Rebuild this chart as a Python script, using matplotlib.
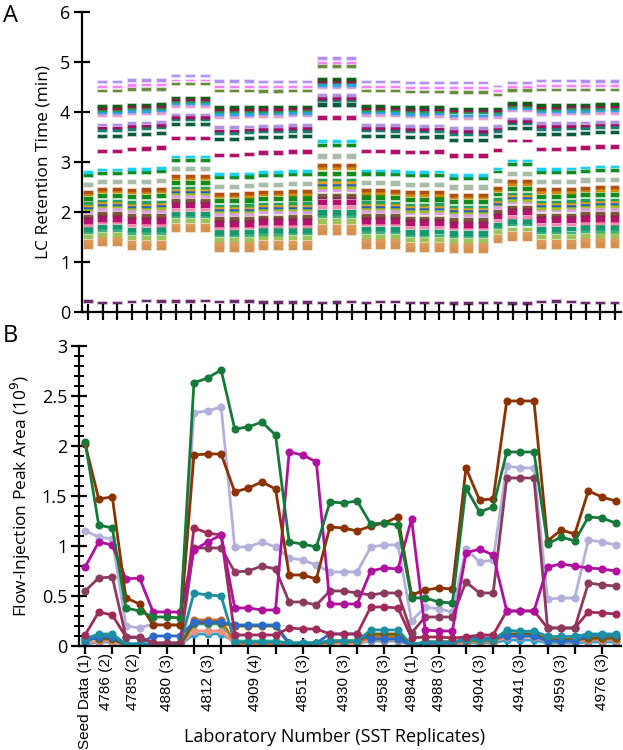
import numpy as np
import matplotlib
matplotlib.use("Agg")
import matplotlib.pyplot as plt
from matplotlib.ticker import MultipleLocator, FixedLocator, FuncFormatter
import matplotlib.transforms as mtransforms

plt.rcParams['font.family'] = ['Open Sans', 'DejaVu Sans']

# ---------------- Panel A data ----------------
# compounds: retention time in a typical run, colour, band thickness (min)
cmp_rt = [1.38, 1.46, 1.55, 1.63, 1.70, 1.78, 1.86, 1.93, 1.97, 2.05, 2.10, 2.14, 2.18,
          2.22, 2.32, 2.40, 2.45, 2.60, 2.78, 2.84, 3.22, 3.52, 3.63, 3.68, 3.74, 3.93,
          3.98, 4.03, 4.07, 4.11, 4.42, 4.50, 4.60]
cmp_color = ['#d4914f', '#dc9a5a', '#9cc35a', '#3fb07a', '#14996e', '#ff88aa', '#b5116e',
             '#8a2550', '#7a5a3a', '#d9a0e8', '#a0c020', '#2060c0', '#e0a020', '#23a05a',
             '#138a1a', '#d08a10', '#b05010', '#a8bca8', '#118a22', '#1ad0f0', '#b0106a',
             '#0a5a3e', '#158070', '#a01060', '#b090e0', '#e0a0d0', '#30a0f0', '#20a050',
             '#a01050', '#0e6018', '#6a8a40', '#ff80ff', '#b090f0']
cmp_height = [0.12, 0.08, 0.08, 0.05, 0.09, 0.05, 0.10, 0.05, 0.05, 0.06, 0.05, 0.05, 0.05,
              0.05, 0.08, 0.05, 0.06, 0.08, 0.06, 0.05, 0.06, 0.06, 0.06, 0.05, 0.05, 0.05,
              0.05, 0.05, 0.05, 0.05, 0.05, 0.04, 0.04]
seed_max_rt = 2.84

# per replicate column: retention time of first, middle (magenta) and last marker compounds
col_low = [1.33, 1.38, 1.38, 1.30, 1.30, 1.30, 1.65, 1.65, 1.65, 1.27, 1.27, 1.27,
           1.30, 1.30, 1.30, 1.30, 1.60, 1.60, 1.60, 1.33, 1.33, 1.33, 1.26, 1.26, 1.26,
           1.25, 1.25, 1.25, 1.43, 1.47, 1.47, 1.32, 1.32, 1.32, 1.35, 1.35, 1.35]
col_mid = [3.17, 3.22, 3.22, 3.25, 3.26, 3.28, 3.47, 3.47, 3.47, 3.13, 3.13, 3.15,
           3.18, 3.18, 3.20, 3.20, 3.88, 3.88, 3.88, 3.21, 3.21, 3.20, 3.19, 3.19, 3.20,
           3.12, 3.12, 3.12, 3.23, 3.42, 3.42, 3.25, 3.25, 3.26, 3.28, 3.30, 3.30]
col_high = [4.55, 4.60, 4.60, 4.63, 4.63, 4.63, 4.72, 4.72, 4.72, 4.61, 4.61, 4.61,
            4.60, 4.60, 4.60, 4.60, 5.07, 5.07, 5.07, 4.60, 4.60, 4.60, 4.58, 4.58, 4.58,
            4.58, 4.58, 4.58, 4.51, 4.58, 4.58, 4.62, 4.62, 4.62, 4.61, 4.61, 4.61]
void_rt = [0.21, 0.18, 0.18, 0.20, 0.22, 0.21, 0.21, 0.21, 0.22, 0.20, 0.21, 0.21,
           0.19, 0.19, 0.19, 0.19, 0.18, 0.19, 0.20, 0.18, 0.20, 0.20, 0.18, 0.18, 0.18,
           0.17, 0.17, 0.18, 0.18, 0.17, 0.17, 0.20, 0.21, 0.20, 0.18, 0.18, 0.18]
void_color = '#6b2b6b'

# ---------------- Panel B data ----------------
labs = ['Seed Data (1)', '4786 (2)', '4785 (2)', '4880 (3)', '4812 (3)', '4909 (4)',
        '4851 (3)', '4930 (3)', '4958 (3)', '4984 (1)', '4988 (3)', '4904 (3)',
        '4941 (3)', '4959 (3)', '4976 (3)']
lab_reps = [1, 2, 2, 3, 3, 4, 3, 3, 3, 1, 3, 3, 3, 3, 3]

green = [2.04, 1.21, 1.18, 0.38, 0.35, 0.29, 0.29, 0.28, 2.63, 2.68, 2.76, 2.17, 2.19, 2.24,
         2.11, 1.04, 1.02, 0.99, 1.44, 1.43, 1.45, 1.22, 1.23, 1.21, 0.48, 0.48, 0.44, 0.43,
         1.58, 1.34, 1.39, 1.94, 1.94, 1.94, 1.02, 1.09, 1.05, 1.29, 1.28, 1.23]
brown = [2.02, 1.47, 1.49, 0.48, 0.42, 0.21, 0.21, 0.21, 1.91, 1.92, 1.92, 1.54, 1.58, 1.64,
         1.57, 0.71, 0.71, 0.67, 1.19, 1.18, 1.15, 1.20, 1.23, 1.29, 0.51, 0.56, 0.58, 0.57,
         1.78, 1.46, 1.47, 2.45, 2.45, 2.45, 1.05, 1.16, 1.12, 1.55, 1.49, 1.45]
lavender = [1.15, 1.09, 1.07, 0.20, 0.18, 0.22, 0.21, 0.21, 2.33, 2.35, 2.39, 0.99, 0.99, 1.04,
            0.99, 0.88, 0.86, 0.81, 0.74, 0.74, 0.74, 0.99, 1.01, 1.01, 0.25, 0.39, 0.37, 0.34,
            0.97, 0.84, 0.86, 1.80, 1.78, 1.78, 0.47, 0.48, 0.48, 1.06, 1.04, 1.01]
magenta = [0.79, 1.04, 1.01, 0.67, 0.68, 0.34, 0.34, 0.34, 0.96, 1.04, 1.11, 0.38, 0.38, 0.36,
           0.36, 1.94, 1.91, 1.84, 0.42, 0.42, 0.42, 0.75, 0.78, 0.77, 1.27, 0.16, 0.15, 0.15,
           0.93, 0.97, 0.91, 0.35, 0.35, 0.35, 0.79, 0.82, 0.80, 0.78, 0.77, 0.75]
maroon_a = [0.55, 0.68, 0.69, 0.09, 0.08, 0.03, 0.03, 0.03, 0.98, 0.98, 0.98, 0.74, 0.75, 0.80,
            0.77, 0.44, 0.44, 0.41, 0.55, 0.55, 0.53, 0.51, 0.53, 0.53, 0.13, 0.29, 0.29, 0.29,
            0.64, 0.53, 0.53, 1.68, 1.68, 1.68, 0.18, 0.18, 0.18, 0.63, 0.61, 0.60]
maroon_b = [0.11, 0.34, 0.31, 0.09, 0.09, 0.03, 0.03, 0.03, 1.18, 1.13, 1.11, 0.11, 0.11, 0.11,
            0.11, 0.18, 0.17, 0.17, 0.12, 0.12, 0.12, 0.39, 0.39, 0.38, 0.08, 0.09, 0.09, 0.08,
            0.09, 0.11, 0.11, 0.35, 0.35, 0.35, 0.18, 0.18, 0.18, 0.34, 0.33, 0.32]
teal = [0.07, 0.12, 0.12, 0.02, 0.02, 0.02, 0.02, 0.02, 0.53, 0.51, 0.50, 0.04, 0.04, 0.04,
        0.04, 0.03, 0.03, 0.03, 0.05, 0.05, 0.05, 0.16, 0.16, 0.16, 0.01, 0.04, 0.04, 0.04,
        0.06, 0.06, 0.06, 0.16, 0.145, 0.15, 0.095, 0.095, 0.095, 0.12, 0.12, 0.12]
olive = [0.08, 0.07, 0.07, 0.01, 0.01, 0.01, 0.01, 0.01, 0.23, 0.23, 0.23, 0.20, 0.20, 0.20,
         0.20, 0.02, 0.02, 0.02, 0.05, 0.05, 0.05, 0.12, 0.12, 0.12, 0.01, 0.04, 0.04, 0.04,
         0.06, 0.06, 0.06, 0.12, 0.12, 0.12, 0.06, 0.06, 0.06, 0.08, 0.08, 0.08]
blue = [0.05, 0.09, 0.09, 0.02, 0.02, 0.10, 0.10, 0.10, 0.24, 0.24, 0.24, 0.21, 0.21, 0.21,
        0.21, 0.03, 0.03, 0.03, 0.12, 0.12, 0.12, 0.07, 0.07, 0.07, 0.01, 0.03, 0.03, 0.03,
        0.08, 0.08, 0.08, 0.10, 0.10, 0.10, 0.05, 0.05, 0.05, 0.11, 0.11, 0.11]
orange = [0.08, 0.08, 0.08, 0.01, 0.01, 0.01, 0.01, 0.01, 0.26, 0.26, 0.26, 0.03, 0.03, 0.03,
          0.03, 0.02, 0.02, 0.02, 0.04, 0.04, 0.04, 0.09, 0.09, 0.09, 0.01, 0.03, 0.03, 0.03,
          0.05, 0.05, 0.05, 0.11, 0.11, 0.11, 0.07, 0.07, 0.07, 0.07, 0.07, 0.07]
spring = [0.04, 0.10, 0.10, 0.01, 0.01, 0.01, 0.01, 0.01, 0.22, 0.22, 0.22, 0.05, 0.05, 0.05,
          0.05, 0.03, 0.03, 0.03, 0.05, 0.05, 0.05, 0.11, 0.11, 0.11, 0.01, 0.04, 0.04, 0.04,
          0.05, 0.05, 0.05, 0.12, 0.12, 0.12, 0.05, 0.05, 0.05, 0.09, 0.09, 0.09]
salmon = [0.03, 0.05, 0.05, 0.01, 0.01, 0.01, 0.01, 0.01, 0.15, 0.15, 0.15, 0.02, 0.02, 0.02,
          0.02, 0.02, 0.02, 0.02, 0.03, 0.03, 0.03, 0.06, 0.06, 0.06, 0.01, 0.02, 0.02, 0.02,
          0.04, 0.04, 0.04, 0.09, 0.09, 0.09, 0.04, 0.04, 0.04, 0.06, 0.06, 0.06]
sky = [0.02, 0.04, 0.04, 0.01, 0.01, 0.01, 0.01, 0.01, 0.12, 0.12, 0.12, 0.04, 0.04, 0.04,
       0.04, 0.02, 0.02, 0.02, 0.03, 0.03, 0.03, 0.05, 0.05, 0.05, 0.01, 0.02, 0.02, 0.02,
       0.03, 0.03, 0.03, 0.06, 0.06, 0.06, 0.03, 0.03, 0.03, 0.04, 0.04, 0.04]

series_b = [(sky, '#2a9fd6'), (salmon, '#f4907c'), (spring, '#2bbf8f'), (orange, '#d2691e'),
            (olive, '#6e5c0c'), (blue, '#2a6cc8'), (teal, '#1d8fa3'),
            (lavender, '#b3b0dc'), (maroon_b, '#a02a5a'), (maroon_a, '#8c3a5e'),
            (magenta, '#b0109e'), (brown, '#8b3300'), (green, '#16793a')]

# ---------------- Figure ----------------
fig = plt.figure(figsize=(6.23, 7.5), dpi=100)

# ----- Panel A -----
axA = fig.add_axes([0.1316, 0.584, 0.865, 0.400])
ncol = len(col_low)
xs = np.arange(ncol)
bw = 0.6
for i in xs:
    anchors_in = [cmp_rt[0], cmp_rt[20], cmp_rt[-1]]
    anchors_out = [col_low[i], col_mid[i], col_high[i]]
    stretch = (col_high[i] - col_low[i]) / (cmp_rt[-1] - cmp_rt[0])
    for rt, c, h in zip(cmp_rt, cmp_color, cmp_height):
        if i == 0 and rt > seed_max_rt:
            continue
        y = np.interp(rt, anchors_in, anchors_out)
        hh = h * stretch
        axA.bar(i, hh, bottom=y - hh / 2, width=bw, color=c,
                edgecolor=matplotlib.colors.to_rgba(c, 0.35), linewidth=1.2)
    axA.bar(i, 0.05, bottom=void_rt[i] - 0.025, width=bw, color=void_color,
            edgecolor=matplotlib.colors.to_rgba(void_color, 0.35), linewidth=1.2)

axA.set_xlim(-0.42, ncol - 0.6)
axA.set_ylim(0, 6)
axA.set_xticks(xs)
axA.set_xticklabels([])
axA.set_yticks(range(7))
axA.spines['top'].set_visible(False)
axA.spines['right'].set_visible(False)
for s in ('left', 'bottom'):
    axA.spines[s].set_linewidth(1.6)
axA.tick_params(axis='x', direction='inout', length=11, width=1.6)
axA.tick_params(axis='y', direction='inout', length=11, width=1.6, labelsize=13, pad=3)
axA.set_ylabel('LC Retention Time (min)', fontsize=12.5, labelpad=6)

# ----- Panel B -----
axB = fig.add_axes([0.1268, 0.1387, 0.870, 0.400])
n = len(green)
xb = np.arange(n)
for vals, c in series_b:
    axB.plot(xb, vals, color=c, lw=2.0, marker='o', ms=4.8, mec=c, mfc=c)

axB.set_xlim(-0.45, n - 0.6)
axB.set_ylim(0, 3)
axB.yaxis.set_major_locator(MultipleLocator(0.5))
axB.yaxis.set_minor_locator(MultipleLocator(0.1))
axB.yaxis.set_major_formatter(FuncFormatter(lambda v, p: ('%g' % v)))
axB.xaxis.set_major_locator(FixedLocator(np.arange(0, n, 2)))
axB.xaxis.set_minor_locator(FixedLocator(np.arange(1, n, 2)))
axB.set_xticklabels([])
axB.spines['top'].set_visible(False)
axB.spines['right'].set_visible(False)
for s in ('left', 'bottom'):
    axB.spines[s].set_linewidth(1.6)
axB.tick_params(axis='x', which='major', direction='inout', length=11, width=1.6)
axB.tick_params(axis='x', which='minor', direction='in', length=5, width=1.4)
axB.tick_params(axis='y', which='major', direction='inout', length=11, width=1.6,
                labelsize=13, pad=3)
axB.tick_params(axis='y', which='minor', direction='inout', length=7, width=1.4)
axB.set_ylabel('Flow-Injection Peak Area (10$^9$)', fontsize=12.5, labelpad=6)

# laboratory labels at group centres
trans = mtransforms.blended_transform_factory(axB.transData, axB.transAxes)
start = 0
for lab, r in zip(labs, lab_reps):
    centre = start + (r - 1) / 2
    axB.text(centre, -0.025, lab, rotation=90, ha='center', va='top', transform=trans,
             fontsize=11, family=['Liberation Sans', 'DejaVu Sans'])
    start += r

fig.text(335 / 623, 1 - 737 / 750, 'Laboratory Number (SST Replicates)', ha='center',
         va='center', fontsize=13)

fig.text(3 / 623, 1 - 16 / 750, 'A', fontsize=17, ha='left', va='center')
fig.text(3 / 623, 1 - 336 / 750, 'B', fontsize=17, ha='left', va='center')

fig.savefig('out.png', dpi=100)
